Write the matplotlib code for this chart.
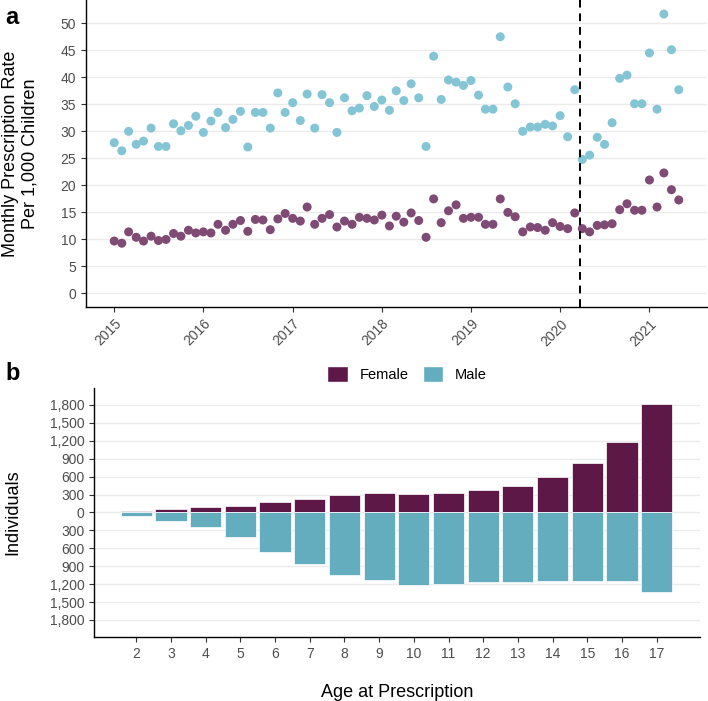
import matplotlib
matplotlib.use("Agg")
import matplotlib.pyplot as plt
import matplotlib.dates as mdates
from matplotlib.patches import Patch
from matplotlib.ticker import FuncFormatter
import pandas as pd

plt.rcParams['font.family'] = ['Liberation Sans', 'DejaVu Sans']

# panel a: monthly prescription rate per 1,000 children, Jan 2015 - May 2021
months = pd.date_range("2015-01-01", periods=77, freq="MS")
male_rate = [27.9, 26.4, 30.0, 27.6, 28.2, 30.6, 27.2, 27.2, 31.4, 30.1,
             31.1, 32.8, 29.8, 31.9, 33.5, 30.7, 32.2, 33.7, 27.1, 33.5,
             33.5, 30.6, 37.1, 33.5, 35.3, 32.0, 36.9, 30.6, 36.8, 35.3,
             29.8, 36.2, 33.8, 34.3, 36.6, 34.6, 35.8, 33.9, 37.5, 35.7,
             38.8, 36.2, 27.2, 43.9, 35.9, 39.5, 39.1, 38.5, 39.4, 36.7,
             34.1, 34.1, 47.5, 38.2, 35.1, 30.0, 30.8, 30.8, 31.3, 31.0,
             32.9, 29.0, 37.7, 24.8, 25.6, 28.9, 27.6, 31.6, 39.8, 40.4,
             35.1, 35.1, 44.5, 34.1, 51.7, 45.1, 37.7]
female_rate = [9.7, 9.3, 11.4, 10.4, 9.7, 10.6, 9.8, 10.0, 11.1, 10.6,
               11.7, 11.2, 11.4, 11.2, 12.8, 11.7, 12.8, 13.5, 11.5, 13.7,
               13.6, 11.8, 13.8, 14.8, 13.9, 13.4, 16.0, 12.8, 13.9, 14.6,
               12.3, 13.4, 12.8, 14.1, 13.9, 13.6, 14.5, 12.5, 14.3, 13.2,
               14.9, 13.5, 10.4, 17.5, 13.1, 15.3, 16.4, 13.9, 14.1, 14.1,
               12.8, 12.8, 17.5, 15.0, 14.2, 11.4, 12.3, 12.2, 11.7, 13.1,
               12.4, 12.0, 14.9, 12.0, 11.4, 12.6, 12.7, 12.9, 15.5, 16.6,
               15.4, 15.4, 21.0, 16.0, 22.3, 19.2, 17.3]
lockdown = pd.Timestamp("2020-03-23")

# panel b: individuals by age at prescription
ages = list(range(2, 18))
female_n = [22, 56, 89, 106, 168, 223, 290, 324, 313, 318, 369, 441, 592, 827, 1173, 1810]
male_n = [61, 145, 251, 408, 659, 860, 1039, 1134, 1207, 1190, 1156, 1162, 1140, 1140, 1140, 1330]

FEMALE_BAR = "#5E1847"
MALE_BAR = "#64ADBF"
FEMALE_PT = "#7F4A74"
MALE_PT = "#84C5D5"
GRID = "#EBEBEB"
TICK_TXT = "#4D4D4D"

W, H = 708, 701
fig = plt.figure(figsize=(W / 100, H / 100), dpi=100)


def style_axes(ax):
    for s in ["top", "right"]:
        ax.spines[s].set_visible(False)
    for s in ["left", "bottom"]:
        ax.spines[s].set_linewidth(1.0)
        ax.spines[s].set_color("black")
    ax.grid(axis="y", color=GRID, linewidth=1.0)
    ax.set_axisbelow(True)
    ax.tick_params(colors="#333333", labelcolor=TICK_TXT, labelsize=10, length=3.5, width=0.8)


# ---- panel a ----
ax1 = fig.add_axes([86 / W, 1 - 307 / H, (707 - 86) / W, 307 / H])
style_axes(ax1)
ax1.scatter(months, male_rate, s=42, color=MALE_PT, edgecolors="none", zorder=3)
ax1.scatter(months, female_rate, s=42, color=FEMALE_PT, edgecolors="none", zorder=3)
ax1.axvline(lockdown, color="black", linestyle=(0, (4, 3)), linewidth=1.4, zorder=4)

span = months[-1] - months[0]
ax1.set_xlim(months[0] - span * 0.05, months[-1] + span * 0.05)
ax1.set_ylim(-2.5, 54.3)
ax1.set_yticks(range(0, 51, 5))
ax1.xaxis.set_major_locator(mdates.YearLocator())
ax1.xaxis.set_major_formatter(mdates.DateFormatter("%Y"))
for lab in ax1.get_xticklabels():
    lab.set_rotation(45)
    lab.set_ha("right")
    lab.set_rotation_mode("anchor")
ax1.set_ylabel("Monthly Prescription Rate\nPer 1,000 Children", fontsize=13, labelpad=16)
fig.text(5 / W, 1 - 18 / H, "a", fontsize=17, fontweight="bold", va="center", ha="left")

# ---- panel b ----
ax2 = fig.add_axes([94 / W, 1 - 637 / H, (700 - 94) / W, (637 - 388) / H])
style_axes(ax2)
ax2.bar(ages, female_n, width=0.9, color=FEMALE_BAR, edgecolor="white", linewidth=0.5, zorder=3)
ax2.bar(ages, [-v for v in male_n], width=0.9, color=MALE_BAR, edgecolor="white", linewidth=0.5, zorder=3)
ax2.set_xlim(0.78, 18.25)
ax2.set_ylim(-2085, 2083)
ax2.set_xticks(ages)
ax2.set_yticks(range(-1800, 1801, 300))
ax2.yaxis.set_major_formatter(FuncFormatter(lambda v, p: f"{abs(int(v)):,}"))
ax2.set_ylabel("Individuals", fontsize=13, labelpad=20)
ax2.set_xlabel("Age at Prescription", fontsize=13, labelpad=17)
fig.text(5 / W, 1 - 373 / H, "b", fontsize=17, fontweight="bold", va="center", ha="left")

handles = [Patch(facecolor=FEMALE_BAR, edgecolor="white", label="Female"),
           Patch(facecolor=MALE_BAR, edgecolor="white", label="Male")]
fig.legend(handles=handles, loc="center", bbox_to_anchor=(407 / W, 1 - 374 / H), ncol=2,
           frameon=False, fontsize=10.5, handlelength=1.4, handleheight=1.4,
           handletextpad=0.8, columnspacing=1.0)

fig.savefig("out.png", dpi=100)
